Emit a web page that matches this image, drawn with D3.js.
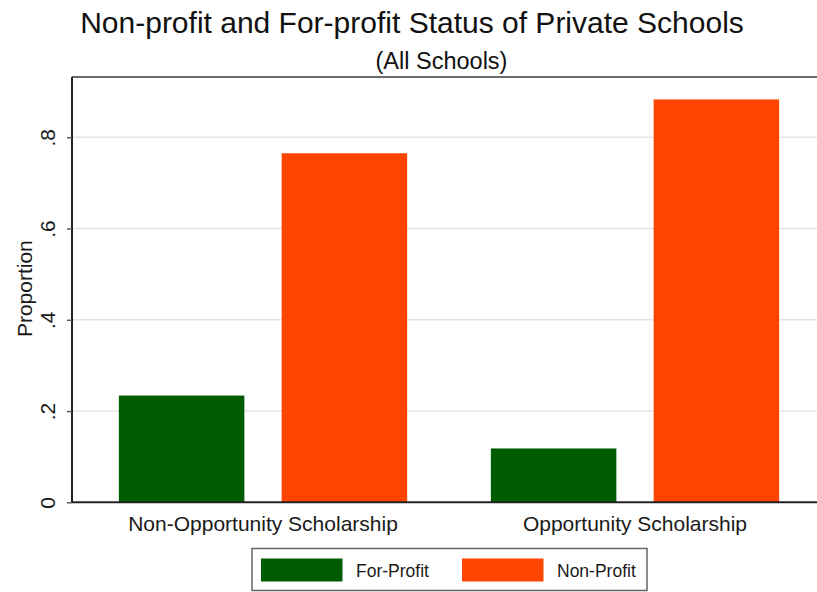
<!DOCTYPE html>
<html>
<head>
<meta charset="utf-8">
<script src="https://cdn.jsdelivr.net/npm/d3@7"></script>
<style>
  html, body { margin: 0; padding: 0; background: #fff; }
  svg { display: block; font-family: "Liberation Sans", Arial, sans-serif; }
</style>
</head>
<body>
<svg id="chart" width="817" height="592"></svg>
<script>
// ---- data ----
const categories = ["Non-Opportunity Scholarship", "Opportunity Scholarship"];
const seriesNames = ["For-Profit", "Non-Profit"];
const forProfit = [0.234, 0.118];
const nonProfit = [0.765, 0.883];
const yTicks = [0, 0.2, 0.4, 0.6, 0.8];
const yTickLabels = ["0", ".2", ".4", ".6", ".8"];
const colors = ["#005c00", "#ff4500"];
const titleText = "Non-profit and For-profit Status of Private Schools";
const subtitleText = "(All Schools)";
const yAxisTitle = "Proportion";

const values = [forProfit, nonProfit];
const rows = categories.map((c, i) => ({
  cat: c,
  vals: seriesNames.map((s, j) => ({ series: s, value: values[j][i], color: colors[j] }))
}));

const svg = d3.select("#chart");
const W = 817, H = 592;
svg.append("rect").attr("width", W).attr("height", H).attr("fill", "#fff");

const plot = { left: 72, right: 826, top: 77, bottom: 502.3 };

const x0 = d3.scaleBand().domain(categories)
  .range([plot.left, plot.right]).paddingInner(0.225).paddingOuter(0.126);
const x1 = d3.scaleBand().domain(seriesNames)
  .range([0, x0.bandwidth()]).paddingInner(0.229).paddingOuter(0);
const y = d3.scaleLinear().domain([0, 0.8]).range([plot.bottom, 137.3]);

// gridlines
svg.append("g").selectAll("line").data(yTicks.filter(d => d > 0)).join("line")
  .attr("x1", plot.left).attr("x2", W)
  .attr("y1", d => y(d)).attr("y2", d => y(d))
  .attr("stroke", "#e4e4e4").attr("stroke-width", 1.6);

// top frame line
svg.append("line").attr("x1", plot.left).attr("x2", W)
  .attr("y1", plot.top).attr("y2", plot.top)
  .attr("stroke", "#3a3a3a").attr("stroke-width", 1.4);

// bars
const groups = svg.append("g").selectAll("g").data(rows).join("g")
  .attr("transform", d => `translate(${x0(d.cat)},0)`);
groups.selectAll("rect").data(d => d.vals).join("rect")
  .attr("x", d => x1(d.series))
  .attr("width", x1.bandwidth())
  .attr("y", d => y(d.value))
  .attr("height", d => y(0) - y(d.value))
  .attr("fill", d => d.color);

// y axis
const yAxis = d3.axisLeft(y).tickValues(yTicks)
  .tickFormat((d, i) => yTickLabels[i]).tickSize(5).tickSizeOuter(0);
const gy = svg.append("g").attr("transform", `translate(${plot.left},0)`).call(yAxis);
gy.select(".domain").attr("stroke", "#222").attr("stroke-width", 2)
  .attr("d", `M0,${plot.top}V${plot.bottom}`);
gy.selectAll(".tick line").attr("stroke", "#555").attr("stroke-width", 1.4);
gy.selectAll(".tick text")
  .attr("transform", "rotate(-90)")
  .attr("x", 0).attr("y", -17).attr("dy", 0)
  .attr("text-anchor", "middle")
  .attr("font-size", 21).attr("fill", "#1a1a1a")
  .attr("font-family", "Liberation Sans, Arial, sans-serif");

// x axis
const xAxis = d3.axisBottom(x0).tickSize(0).tickSizeOuter(0);
const gx = svg.append("g").attr("transform", `translate(0,${plot.bottom})`).call(xAxis);
gx.select(".domain").attr("stroke", "#222").attr("stroke-width", 2)
  .attr("d", `M${plot.left},0H${W}`);
gx.selectAll(".tick text").attr("y", 29).attr("dy", 0)
  .attr("font-size", 21).attr("fill", "#1a1a1a")
  .attr("font-family", "Liberation Sans, Arial, sans-serif");

// y axis title
svg.append("text")
  .attr("transform", `translate(32,${(plot.top + plot.bottom) / 2 - 1}) rotate(-90)`)
  .attr("text-anchor", "middle").attr("font-size", 21).attr("fill", "#1a1a1a")
  .text(yAxisTitle);

// titles
svg.append("text").attr("x", 412).attr("y", 33)
  .attr("text-anchor", "middle").attr("font-size", 30).attr("fill", "#111")
  .text(titleText);
svg.append("text").attr("x", 441.5).attr("y", 69)
  .attr("text-anchor", "middle").attr("font-size", 23.5).attr("fill", "#111")
  .text(subtitleText);

// legend
const leg = svg.append("g");
leg.append("rect").attr("x", 252).attr("y", 548.5).attr("width", 395).attr("height", 42)
  .attr("fill", "#fff").attr("stroke", "#666").attr("stroke-width", 1.5);
const legX = [261, 462];
const items = leg.selectAll("g").data(seriesNames).join("g")
  .attr("transform", (d, i) => `translate(${legX[i]},558.5)`);
items.append("rect").attr("width", 81.5).attr("height", 23).attr("fill", (d, i) => colors[i]);
items.append("text").attr("x", 95)
  .attr("y", 18.2).attr("font-size", 17.5).attr("fill", "#1a1a1a")
  .text(d => d);
</script>
</body>
</html>
